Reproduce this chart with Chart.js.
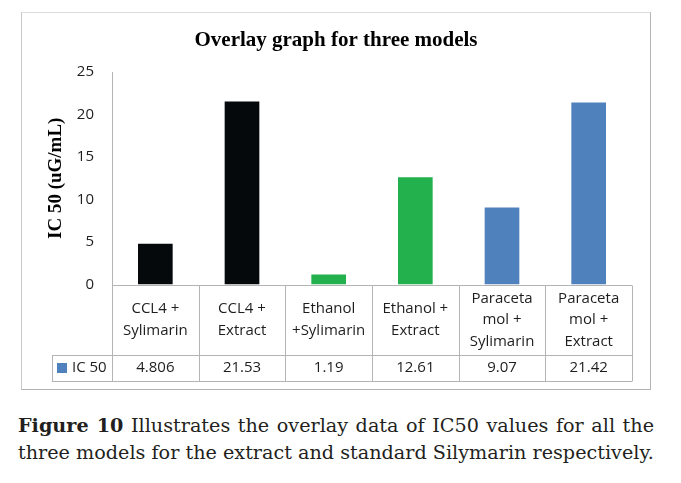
<!DOCTYPE html>
<html>
<head>
<meta charset="utf-8">
<script src="https://cdn.jsdelivr.net/npm/chart.js@4/dist/chart.umd.min.js"></script>
<style>
  html, body { margin: 0; padding: 0; background: #fff; }
  body { width: 681px; height: 483px; position: relative; overflow: hidden; }
  #box {
    position: absolute; left: 21px; top: 12px; width: 628px; height: 376px;
    border: 1px solid #c8c8c8; border-top-color: #dcdcdc;
    border-right-color: #b4b4b4; border-bottom-color: #b4b4b4;
  }
  #caption {
    position: absolute; left: 18px; top: 412px; width: 636px;
    font-family: "DejaVu Serif", serif; font-size: 19.2px; line-height: 27px; color: #231f20;
  }
  #caption div { white-space: nowrap; }
  #caption .l1 { text-align: justify; text-align-last: justify; }
</style>
</head>
<body>
<div id="box"><canvas id="chart" width="628" height="376"></canvas></div>
<div id="caption">
  <div class="l1"><b>Figure 10</b> Illustrates the overlay data of IC50 values for all the</div>
  <div>three models for the extract and standard Silymarin respectively.</div>
</div>
<script>
// chart data
const chartTitle = "Overlay graph for three models";
const yAxisTitle = "IC 50 (uG/mL)";
const seriesName = "IC 50";
const categories = [
    ["CCL4 +", "Sylimarin"],
    ["CCL4 +", "Extract"],
    ["Ethanol", "+Sylimarin"],
    ["Ethanol +", "Extract"],
    ["Paraceta", "mol +", "Sylimarin"],
    ["Paraceta", "mol +", "Extract"],
];
const ic50Values = [4.806, 21.53, 1.19, 12.61, 9.07, 21.42];
const yMin = 0;
const yMax = 25;
const yStep = 5;

const barColors = ["#05090b", "#05090b", "#22b14c", "#22b14c", "#4f81bd", "#4f81bd"];
const legendColor = "#4f81bd";
const sansFamily = "'Open Sans', sans-serif";
const labelFont = "15px " + sansFamily;
const textColor = "#1e1e1e";
const lineColor = "#b4b4b4";

// Excel style data table under the x axis
const dataTablePlugin = {
    id: "dataTable",
    afterDraw(chart) {
        const ctx = chart.ctx;
        const x = chart.scales.x;
        const area = chart.chartArea;
        const n = categories.length;
        const step = x.getPixelForValue(1) - x.getPixelForValue(0);
        const left = x.getPixelForValue(0) - step / 2;
        const right = x.getPixelForValue(n - 1) + step / 2;
        const top = area.bottom;
        const rowY = top + 70.5;
        const bottom = x.bottom;
        const legendLeft = 30;
        const px = v => Math.round(v) + 0.5;

        ctx.save();
        ctx.strokeStyle = lineColor;
        ctx.lineWidth = 1;
        ctx.beginPath();
        // axis line + value row lines
        ctx.moveTo(left, px(top)); ctx.lineTo(right, px(top));
        ctx.moveTo(legendLeft, px(rowY)); ctx.lineTo(right, px(rowY));
        ctx.moveTo(legendLeft, px(bottom)); ctx.lineTo(right, px(bottom));
        ctx.moveTo(px(legendLeft), px(rowY)); ctx.lineTo(px(legendLeft), px(bottom));
        for (let i = 0; i <= n; i++) {
            const xx = px(left + i * step);
            ctx.moveTo(xx, px(top)); ctx.lineTo(xx, px(bottom));
        }
        ctx.stroke();

        ctx.fillStyle = textColor;
        ctx.font = labelFont;
        ctx.textAlign = "center";
        ctx.textBaseline = "middle";
        const catMid = (top + rowY) / 2;
        const valMid = (rowY + bottom) / 2;
        categories.forEach((lines, i) => {
            const cx = x.getPixelForValue(i);
            lines.forEach((t, j) => {
                ctx.fillText(t, cx, catMid + (j - (lines.length - 1) / 2) * 21.5);
            });
            ctx.fillText(String(ic50Values[i]), cx, valMid);
        });

        // legend key
        ctx.fillStyle = legendColor;
        ctx.fillRect(35, valMid - 5, 10, 10);
        ctx.fillStyle = textColor;
        ctx.textAlign = "left";
        ctx.fillText(seriesName, 50, valMid);
        ctx.restore();
    },
};

new Chart(document.getElementById("chart"), {
    type: "bar",
    data: {
        labels: categories,
        datasets: [{
            label: seriesName,
            data: ic50Values,
            backgroundColor: barColors,
            borderWidth: 0,
            barPercentage: 0.4,
            categoryPercentage: 1.0,
        }],
    },
    options: {
        responsive: false,
        animation: false,
        layout: { padding: { left: 18, right: 18, top: 0, bottom: 8 } },
        plugins: {
            legend: { display: false },
            tooltip: { enabled: false },
            title: {
                display: true,
                text: chartTitle,
                color: "#000",
                font: { family: "'Liberation Serif', serif", size: 21, weight: "bold" },
                padding: { top: 15.4, bottom: 18.4 },
            },
        },
        scales: {
            x: {
                grid: { display: false },
                border: { display: false },
                ticks: { display: false },
                afterFit(scale) { scale.height = 96.5; },
            },
            y: {
                min: yMin,
                max: yMax,
                grid: { display: false, drawTicks: false },
                border: { display: true, color: lineColor },
                ticks: {
                    stepSize: yStep,
                    padding: 18,
                    color: textColor,
                    font: { family: sansFamily, size: 15 },
                },
                title: {
                    display: true,
                    text: yAxisTitle,
                    color: "#000",
                    font: { family: "'Liberation Serif', serif", size: 19, weight: "bold" },
                    padding: { top: 4.6, bottom: 0 },
                },
                afterFit(scale) { scale.width = 72; },
            },
        },
    },
    plugins: [dataTablePlugin],
});
</script>
</body>
</html>
